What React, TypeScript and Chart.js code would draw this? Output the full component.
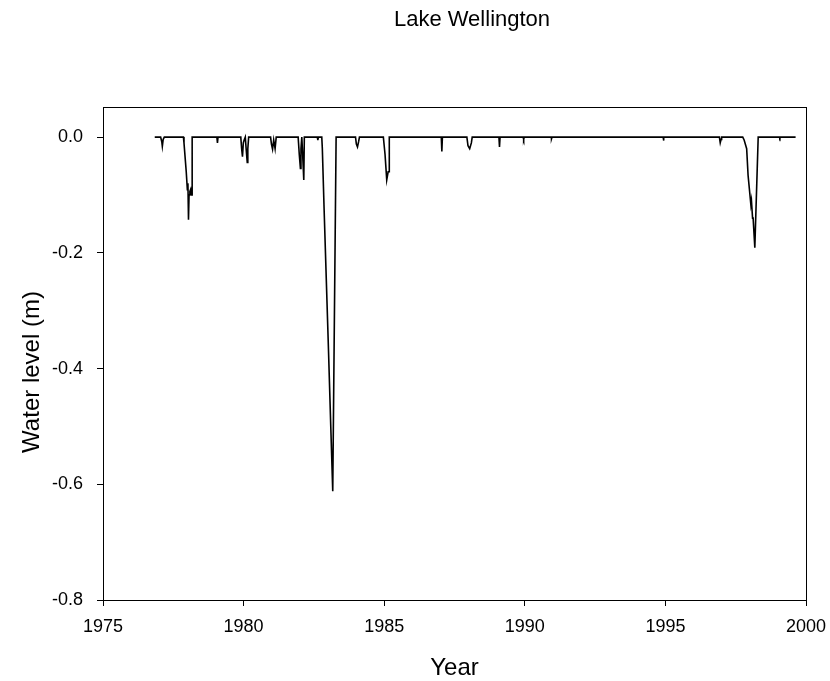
import React, { useEffect, useRef } from "react";
import { Chart, registerables } from "chart.js";

Chart.register(...registerables);

const chartTitle = "Lake Wellington";
const xAxisTitle = "Year";
const yAxisTitle = "Water level (m)";

const xTicks = [1975, 1980, 1985, 1990, 1995, 2000];
const yTicks = [-0.8, -0.6, -0.4, -0.2, 0.0];

const years = [
  1976.84, 1977.05, 1977.09, 1977.11, 1977.14, 1977.18,
  1977.86, 1977.88, 1977.96, 1978.0, 1978.02, 1978.04, 1978.06, 1978.09, 1978.12, 1978.15, 1978.17, 1978.171,
  1979.05, 1979.07, 1979.09,
  1979.9, 1979.93, 1979.96, 1979.99, 1980.02, 1980.06, 1980.09, 1980.13, 1980.15, 1980.18,
  1980.96, 1980.99, 1981.03, 1981.07, 1981.12, 1981.16,
  1981.94, 1981.98, 1982.02, 1982.04, 1982.07, 1982.1, 1982.14, 1982.16,
  1982.62, 1982.64, 1982.66,
  1982.78, 1982.8, 1982.86, 1982.94, 1983.02, 1983.1, 1983.17, 1983.29,
  1983.98, 1984.01, 1984.05, 1984.09, 1984.12,
  1984.97, 1985.03, 1985.09, 1985.14, 1985.18, 1985.181,
  1987.03, 1987.05, 1987.07,
  1987.94, 1987.98, 1988.04, 1988.1, 1988.13,
  1989.08, 1989.1, 1989.12,
  1989.94, 1989.96, 1989.98,
  1990.94, 1990.95, 1990.97,
  1994.92, 1994.93, 1994.95,
  1996.92, 1996.95, 1996.98, 1997.0,
  1997.75, 1997.8, 1997.89, 1997.94, 1998.04, 1998.06, 1998.1, 1998.12, 1998.18, 1998.3,
  1999.05, 1999.07, 1999.09, 1999.63,
];

const levels = [
  0, 0, -0.008, -0.016, -0.004, 0,
  0, -0.01, -0.06, -0.091, -0.08, -0.143, -0.1, -0.094, -0.09, -0.1, -0.1, 0,
  0, -0.01, 0,
  0, -0.02, -0.034, -0.01, -0.005, 0, -0.02, -0.044, -0.02, 0,
  0, -0.012, -0.021, -0.005, -0.02, 0,
  0, -0.03, -0.054, -0.02, 0, -0.03, -0.074, 0,
  0, -0.005, 0,
  0, -0.02, -0.12, -0.245, -0.37, -0.5, -0.612, 0,
  0, -0.012, -0.017, -0.008, 0,
  0, -0.03, -0.074, -0.06, -0.06, 0,
  0, -0.025, 0,
  0, -0.015, -0.02, -0.01, 0,
  0, -0.017, 0,
  0, -0.004, 0,
  0, -0.003, 0,
  0, -0.006, 0,
  0, -0.01, -0.004, 0,
  0, -0.005, -0.02, -0.066, -0.117, -0.11, -0.14, -0.14, -0.191, 0,
  0, -0.002, 0, 0,
];

const FONT = "'Liberation Sans', Arial, sans-serif";

const framePlugin = {
  id: "frameAndTitles",
  afterDraw(chart: any) {
    const { ctx, chartArea } = chart;
    const { left, right, top, bottom } = chartArea;
    ctx.save();
    ctx.strokeStyle = "#000";
    ctx.lineWidth = 1;
    ctx.strokeRect(left + 0.5, top + 0.5, right - left, bottom - top);
    ctx.fillStyle = "#000";
    ctx.textAlign = "center";
    ctx.textBaseline = "alphabetic";
    ctx.font = `22px ${FONT}`;
    ctx.fillText(chartTitle, (left + right) / 2 + 17.5, 26);
    ctx.font = `24px ${FONT}`;
    ctx.translate(39, (top + bottom) / 2 + 18.5);
    ctx.rotate(-Math.PI / 2);
    ctx.fillText(yAxisTitle, 0, 0);
    ctx.restore();
  },
};

export default function App() {
  const ref = useRef<HTMLCanvasElement | null>(null);
  useEffect(() => {
    if (!ref.current) return;
    const points = years.map((x, i) => ({ x, y: levels[i] }));
    const chart = new Chart(ref.current, {
      type: "line",
      data: {
        datasets: [
          {
            data: points,
            borderColor: "#000",
            borderWidth: 1.6,
            pointRadius: 0,
            tension: 0,
            fill: false,
          },
        ],
      },
      options: {
        animation: false,
        responsive: false,
        maintainAspectRatio: false,
        layout: { padding: { top: 107, right: 24, left: 0, bottom: 0 } },
        plugins: { legend: { display: false }, title: { display: false }, tooltip: { enabled: false } },
        scales: {
          x: {
            type: "linear",
            min: 1975,
            max: 2000,
            afterBuildTicks: (s: any) => {
              s.ticks = xTicks.map((v) => ({ value: v }));
            },
            afterFit: (s: any) => {
              s.height = 90;
              s.paddingLeft = 0;
              s.paddingRight = 0;
            },
            grid: { drawOnChartArea: false, drawTicks: true, tickLength: 6, color: "#000" },
            border: { display: true, color: "#000" },
            ticks: {
              color: "#000",
              padding: 10,
              maxRotation: 0,
              font: { family: FONT, size: 18 },
              callback: (v: any) => String(v),
            },
            title: {
              display: true,
              text: xAxisTitle,
              color: "#000",
              font: { family: FONT, size: 24 },
              padding: { top: 8, bottom: 7 },
            },
          },
          y: {
            type: "linear",
            min: -0.8,
            max: 0.052,
            afterBuildTicks: (s: any) => {
              s.ticks = yTicks.map((v) => ({ value: v }));
            },
            afterFit: (s: any) => {
              s.width = 103;
              s.paddingTop = 0;
              s.paddingBottom = 0;
            },
            grid: { drawOnChartArea: false, drawTicks: true, tickLength: 6, color: "#000" },
            border: { display: true, color: "#000" },
            ticks: {
              color: "#000",
              padding: 14,
              font: { family: FONT, size: 18 },
              callback: (v: any) => Number(v).toFixed(1),
            },
          },
        },
      },
      plugins: [framePlugin],
    });
    return () => chart.destroy();
  }, []);
  return (
    <div style={{ position: "fixed", left: 0, top: 0, width: 830, height: 690 }}>
      <canvas ref={ref} width={830} height={690} style={{ display: "block" }} />
    </div>
  );
}
